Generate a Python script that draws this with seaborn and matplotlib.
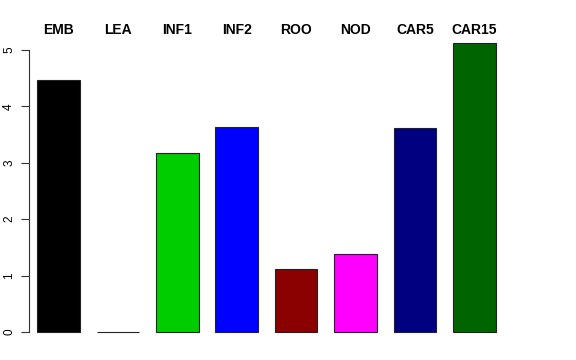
import matplotlib
matplotlib.use("Agg")
import matplotlib.pyplot as plt
import seaborn as sns

categories = ["EMB", "LEA", "INF1", "INF2", "ROO", "NOD", "CAR5", "CAR15"]
values = [4.47, 0.0, 3.18, 3.64, 1.12, 1.39, 3.62, 5.12]
colors = ["#000000", "#FF0000", "#00CD00", "#0000FF", "#8B0000", "#FF00FF", "#000080", "#006400"]

sns.set_style("white")
plt.rcParams["font.family"] = ["Liberation Sans", "DejaVu Sans"]
plt.rcParams["text.color"] = "black"
plt.rcParams["xtick.color"] = "black"
plt.rcParams["ytick.color"] = "black"

fig = plt.figure(figsize=(5.76, 3.6), dpi=100)
ax = fig.add_axes([29 / 576, 15 / 360, 511 / 576, 305 / 360])

sns.barplot(x=categories, y=values, hue=categories, palette=colors, legend=False,
            width=0.72, saturation=1, edgecolor="#222222", linewidth=0.8, ax=ax)

ax.set_xlim(-0.497, 8.106)
ax.set_ylim(-0.23, 5.177)

for s in ["top", "right", "bottom"]:
    ax.spines[s].set_visible(False)
ax.spines["left"].set_bounds(0, 5)
ax.spines["left"].set_color("#333333")
ax.spines["left"].set_linewidth(0.8)

ax.set_yticks(range(6))
ax.set_yticklabels([str(i) for i in range(6)], rotation=90, va="center", fontsize=8.5)
ax.tick_params(axis="y", left=True, length=6, width=0.8, color="#333333", pad=4)

ax.xaxis.tick_top()
ax.tick_params(axis="x", top=False, bottom=False, length=0, pad=2)
ax.set_xticks(range(len(categories)))
ax.set_xticklabels(categories, fontweight="bold", fontsize=10)
ax.set_xlabel("")
ax.set_ylabel("")

fig.savefig("out.png", dpi=100)
